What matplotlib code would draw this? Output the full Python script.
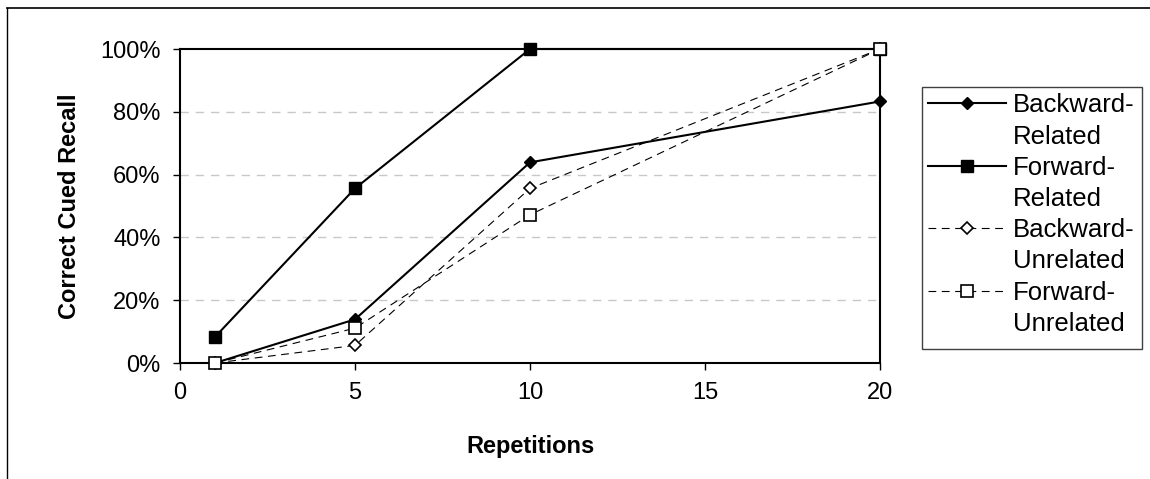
import matplotlib.pyplot as plt
from matplotlib.lines import Line2D
from matplotlib.patches import Rectangle
from matplotlib.ticker import PercentFormatter

plt.rcParams['font.family'] = ['Liberation Sans', 'DejaVu Sans']

# data
repetitions = [1, 5, 10, 20]
backward_related = [0.0, 0.139, 0.639, 0.833]
forward_related = [0.083, 0.556, 1.0, 1.0]
backward_unrelated = [0.0, 0.056, 0.556, 1.0]
forward_unrelated = [0.0, 0.111, 0.472, 1.0]
series_names = [('Backward-', 'Related'), ('Forward-', 'Related'),
                ('Backward-', 'Unrelated'), ('Forward-', 'Unrelated')]
x_ticks = [0, 5, 10, 15, 20]
y_ticks = [0, 0.2, 0.4, 0.6, 0.8, 1.0]

W, H = 1150, 479


def main():
    fig = plt.figure(figsize=(W / 100, H / 100), dpi=100)
    ax = fig.add_axes([180 / W, 1 - 363 / H, 700 / W, 314 / H])

    # outer chart-area border (top and left visible only)
    fig.add_artist(Line2D([7 / W, 1.0], [1 - 8 / H, 1 - 8 / H],
                          transform=fig.transFigure, color='black', lw=1.2))
    fig.add_artist(Line2D([7 / W, 7 / W], [0.0, 1 - 8 / H],
                          transform=fig.transFigure, color='black', lw=1.0))

    for y in y_ticks[1:-1]:
        ax.axhline(y, color='#c8c8c8', lw=1.0, dashes=(6, 5), zorder=0)

    h1, = ax.plot(repetitions, backward_related, color='black', lw=1.5,
                  marker='D', ms=6.2, mfc='black', mec='black', zorder=3)
    h2, = ax.plot(repetitions, forward_related, color='black', lw=1.5,
                  marker='s', ms=8.2, mfc='black', mec='black', zorder=3)
    h3, = ax.plot(repetitions, backward_unrelated, color='black', lw=0.8,
                  dashes=(7, 5), marker='D', ms=6.0, mfc='white', mec='black',
                  mew=1.2, zorder=4)
    h4, = ax.plot(repetitions, forward_unrelated, color='black', lw=0.8,
                  dashes=(7, 5), marker='s', ms=8.0, mfc='white', mec='black',
                  mew=1.2, zorder=4)

    ax.set_xlim(0, 20)
    ax.set_ylim(0, 1)
    ax.set_xticks(x_ticks)
    ax.set_yticks(y_ticks)
    ax.yaxis.set_major_formatter(PercentFormatter(1.0, decimals=0))
    ax.tick_params(direction='out', length=5, width=1, labelsize=17, pad=9)
    for s in ax.spines.values():
        s.set_linewidth(1.5)
        s.set_color('black')
    for line in ax.lines:
        line.set_clip_on(False)

    ax.set_xlabel('Repetitions', fontsize=17, fontweight='bold', labelpad=22)
    ax.set_ylabel('Correct Cued Recall', fontsize=17, fontweight='bold',
                  labelpad=14)

    # legend: handle sits on the first line of each two-line label
    blank = Line2D([], [], linestyle='none')
    handles, labels = [], []
    for h, (first, second) in zip([h1, h2, h3, h4], series_names):
        handles += [h, blank]
        labels += [first, second]
    fig.legend(handles, labels, loc='upper left',
               bbox_to_anchor=(922 / W, 1 - 87 / H),
               fontsize=18.5, frameon=False, borderaxespad=0,
               handlelength=3.0, handletextpad=0.3, labelspacing=0.28,
               borderpad=0.25)
    # legend box drawn separately so its size matches the reference
    fig.add_artist(Rectangle((922 / W, 1 - 349 / H), 220 / W, 262 / H,
                             transform=fig.transFigure, fill=False,
                             edgecolor='#404040', lw=1.0))

    fig.savefig('out.png', dpi=100)


if __name__ == '__main__':
    main()
